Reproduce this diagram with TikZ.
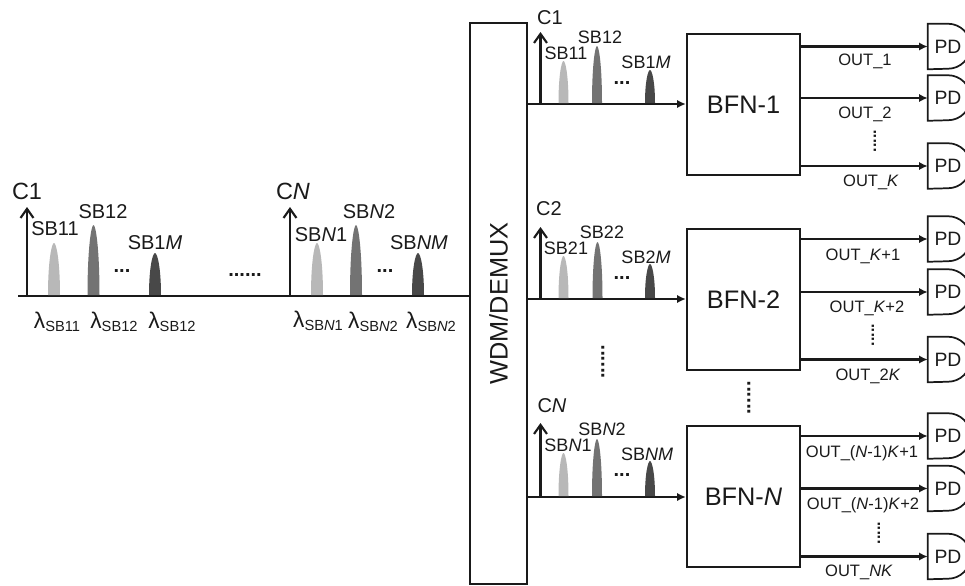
\documentclass[tikz,border=0pt]{standalone}
\usepackage{fontspec}
\setmainfont{Liberation Sans}
\usetikzlibrary{arrows.meta, positioning, calc}
\definecolor{ink}{HTML}{1A1A1A}
\definecolor{sblight}{HTML}{B8B8B8}
\definecolor{sbmid}{HTML}{737373}
\definecolor{sbdark}{HTML}{484848}
\tikzset{
  block/.style    ={draw=ink, line width=1.8pt, fill=white, inner sep=0pt, text=ink},
  bfnbox/.style   ={block, minimum width=84.75pt, minimum height=105.75pt,
                    font=\fontsize{19}{19}\selectfont},
  pdbox/.style    ={minimum width=30pt, minimum height=33.75pt, inner sep=0pt, text=ink,
                    font=\fontsize{14.5}{14.5}\selectfont},
  pdline/.style   ={draw=ink, line width=1.3pt},
  flow/.style     ={-{Latex[length=2.3mm,width=2.2mm]}, line width=1.7pt, draw=ink},
  axis/.style     ={-{Straight Barb[length=2.4mm,width=3.4mm,line width=1.6pt]}, line width=1.8pt, draw=ink},
  trunk/.style    ={line width=1.9pt, draw=ink},
  bigc/.style     ={font=\fontsize{17.6}{17.6}\selectfont, text=ink, inner sep=0pt},
  bigsb/.style    ={font=\fontsize{15}{15}\selectfont, text=ink, inner sep=0pt},
  smallc/.style   ={font=\fontsize{15}{15}\selectfont, text=ink, inner sep=0pt},
  smallsb/.style  ={font=\fontsize{13.5}{13.5}\selectfont, text=ink, inner sep=0pt},
  outlab/.style   ={font=\fontsize{12.4}{12.4}\selectfont, text=ink, inner sep=0pt},
  dots/.style     ={font=\fontsize{15}{15}\selectfont\bfseries, text=ink, inner sep=0pt},
  vdots/.style    ={dots, rotate=90},
  outdots/.style  ={vdots, font=\fontsize{12}{12}\selectfont\bfseries}
}
\newcommand{\lsb}[1]{{\fontsize{17}{17}\selectfont λ}\raisebox{-0.3ex}{\fontsize{11}{11}\selectfont #1}}
% x, baseline, top, half width, colour
\newcommand{\sbpeak}[5]{
  \fill[#5] ({#1-#4},#2) .. controls ({#1-#4},{#3+0.35*(#2-#3)}) and ({#1-0.4*#4},#3) .. (#1,#3)
    .. controls ({#1+0.4*#4},#3) and ({#1+#4},{#3+0.35*(#2-#3)}) .. ({#1+#4},#2) -- cycle;
}
% name, y
\newcommand{\pdnode}[2]{
  \node[pdbox] (#1) at (948,#2) {PD};
  \draw[pdline] (#1.north west) -- (#1.north) arc[start angle=90, end angle=-90, radius=16.875pt]
    -- (#1.south west) -- cycle;
}
\begin{document}
\begin{tikzpicture}[x=0.75pt, y=-0.75pt]
  \useasboundingbox (0,0) rectangle (965,586);

  % input spectrum
  \coordinate (start) at (18,296);
  \node[block, minimum width=42.75pt, minimum height=420.75pt] (wdm) at (498.5,303.5)
    {\rotatebox{90}{\fontsize{19}{19}\selectfont WDM/DEMUX}};
  \draw[trunk] (start) -- (wdm.west |- start);

  \coordinate (c1base) at (27,296);
  \coordinate (c1top)  at (27,207);
  \coordinate (cNbase) at (290,296);
  \coordinate (cNtop)  at (290,207);
  \draw[axis] (c1base) -- (c1top);
  \draw[axis] (cNbase) -- (cNtop);

  \sbpeak{54}{295}{243}{6}{sblight}
  \sbpeak{93.5}{295}{225}{6}{sbmid}
  \sbpeak{155}{295}{253}{6}{sbdark}
  \sbpeak{317}{295}{243}{6}{sblight}
  \sbpeak{356}{295}{225}{6}{sbmid}
  \sbpeak{418}{295}{253}{6}{sbdark}

  \node[bigc]  (lc1)  at (27,191)  {C1};
  \node[bigc]  (lcN)  at (293,191) {C\textit{N}};
  \node[bigsb] (l11)  at (55,229)  {SB11};
  \node[bigsb] (l12)  at (103,212) {SB12};
  \node[bigsb] (l1M)  at (155,243) {SB1\textit{M}};
  \node[bigsb] (lN1)  at (321,235) {SB\textit{N}1};
  \node[bigsb] (lN2)  at (369,212) {SB\textit{N}2};
  \node[bigsb] (lNM)  at (419,243) {SB\textit{NM}};
  \node[dots]  (d1)   at (122,271) {...};
  \node[dots]  (d2)   at (245,275) {......};
  \node[dots]  (d3)   at (385,271) {...};

  \node[bigsb] (w11) at (57,322)  {\lsb{SB11}};
  \node[bigsb] (w12) at (114,322) {\lsb{SB12}};
  \node[bigsb] (w1M) at (172,322) {\lsb{SB12}};
  \node[bigsb] (wN1) at (318,321) {\lsb{SB\textit{N}1}};
  \node[bigsb] (wN2) at (373,322) {\lsb{SB\textit{N}2}};
  \node[bigsb] (wNM) at (431,322) {\lsb{SB\textit{N}2}};

  % beamforming networks
  \node[bfnbox] (bfn1) at (743.5,104.5) {BFN-1};
  \node[bfnbox] (bfn2) at (743.5,299.5) {BFN-2};
  \node[bfnbox] (bfnN) at (743.5,496.5) {BFN-\textit{N}};

  % channel 1
  \coordinate (ch1) at (540.5,104);
  \coordinate (ch1top) at (540.5,32);
  \draw[flow] (wdm.east |- ch1) -- (bfn1.west |- ch1);
  \draw[axis] (ch1) -- (ch1top);
  \sbpeak{563.5}{103}{61}{5}{sblight}
  \sbpeak{597}{103}{46}{5}{sbmid}
  \sbpeak{650}{103}{70}{5}{sbdark}
  \node[smallc]  (t1)  at (550,18)  {C1};
  \node[smallsb] (t11) at (566,53)  {SB11};
  \node[smallsb] (t12) at (600,37)  {SB12};
  \node[smallsb] (t1M) at (646,62)  {SB1\textit{M}};
  \node[dots]    (t1d) at (622,83)  {...};

  % channel 2
  \coordinate (ch2) at (540.5,299);
  \coordinate (ch2top) at (540.5,227);
  \draw[flow] (wdm.east |- ch2) -- (bfn2.west |- ch2);
  \draw[axis] (ch2) -- (ch2top);
  \sbpeak{563.5}{298}{256}{5}{sblight}
  \sbpeak{597.5}{298}{242}{5}{sbmid}
  \sbpeak{650}{298}{264}{5}{sbdark}
  \node[smallc]  (t2)  at (549,209) {C2};
  \node[smallsb] (t21) at (566,248) {SB21};
  \node[smallsb] (t22) at (602,232) {SB22};
  \node[smallsb] (t2M) at (646,257) {SB2\textit{M}};
  \node[dots]    (t2d) at (622,278) {...};

  % channel N
  \coordinate (chN) at (540.5,497);
  \coordinate (chNtop) at (540.5,423);
  \draw[flow] (wdm.east |- chN) -- (bfnN.west |- chN);
  \draw[axis] (chN) -- (chNtop);
  \sbpeak{563.5}{496}{453}{5}{sblight}
  \sbpeak{597}{496}{439}{5}{sbmid}
  \sbpeak{650}{496}{461}{5}{sbdark}
  \node[smallc]  (tN)  at (552,406) {C\textit{N}};
  \node[smallsb] (tN1) at (568,445) {SB\textit{N}1};
  \node[smallsb] (tN2) at (602,429) {SB\textit{N}2};
  \node[smallsb] (tNM) at (647,454) {SB\textit{NM}};
  \node[dots]    (tNd) at (622,475) {...};

  \node[vdots] (vd1) at (603,362) {......};
  \node[vdots] (vd2) at (749,398) {......};

  % photodiodes
  \pdnode{pd1}{46.5}
  \pdnode{pd2}{98}
  \pdnode{pd3}{166}
  \pdnode{pd4}{239}
  \pdnode{pd5}{292}
  \pdnode{pd6}{359.5}
  \pdnode{pd7}{436}
  \pdnode{pd8}{488.5}
  \pdnode{pd9}{556.5}

  \draw[flow] (bfn1.east |- pd1) -- (pd1.west);
  \draw[flow] (bfn1.east |- pd2) -- (pd2.west);
  \draw[flow] (bfn1.east |- pd3) -- (pd3.west);
  \draw[flow] (bfn2.east |- pd4) -- (pd4.west);
  \draw[flow] (bfn2.east |- pd5) -- (pd5.west);
  \draw[flow] (bfn2.east |- pd6) -- (pd6.west);
  \draw[flow] (bfnN.east |- pd7) -- (pd7.west);
  \draw[flow] (bfnN.east |- pd8) -- (pd8.west);
  \draw[flow] (bfnN.east |- pd9) -- (pd9.west);

  \node[outlab] (o1) at (865,61)  {OUT\_1};
  \node[outlab] (o2) at (865,114) {OUT\_2};
  \node[outlab] (o3) at (871,182) {OUT\_\textit{K}};
  \node[outlab] (o4) at (863,256) {OUT\_\textit{K}+1};
  \node[outlab] (o5) at (867,308) {OUT\_\textit{K}+2};
  \node[outlab] (o6) at (868,376) {OUT\_2\textit{K}};
  \node[outlab] (o7) at (862,453) {OUT\_(\textit{N}-1)\textit{K}+1};
  \node[outlab] (o8) at (863,505) {OUT\_(\textit{N}-1)\textit{K}+2};
  \node[outlab] (o9) at (859,572) {OUT\_\textit{NK}};
  \node[outdots] (od1) at (875,141) {.....};
  \node[outdots] (od2) at (873,335) {.....};
  \node[outdots] (od3) at (879,533) {.....};
\end{tikzpicture}
\end{document}
